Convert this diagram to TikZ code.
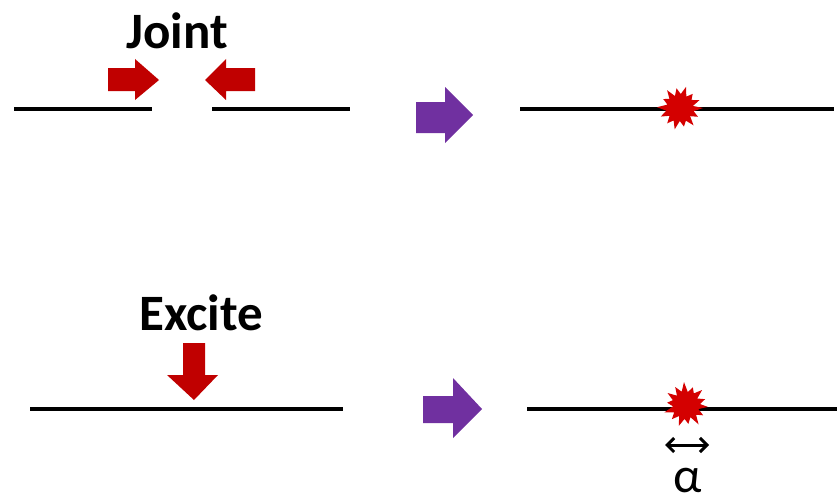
\documentclass[tikz,border=0pt]{standalone}
\usepackage{fontspec}
\setmainfont{Carlito}
\usetikzlibrary{calc,arrows.meta}
\definecolor{arrred}{HTML}{C00000}
\definecolor{arrpurple}{HTML}{7030A0}
\definecolor{burst}{HTML}{D40000}
\begin{document}
\begin{tikzpicture}[x=1pt,y=-1pt,
  seg/.style={line width=3.5pt,black},
  redarrow/.style={fill=arrred,draw=none},
  purplearrow/.style={fill=arrpurple,draw=none},
  lbl/.style={font=\bfseries\fontsize{51}{56}\selectfont,inner sep=0pt}]
\useasboundingbox (0,0) rectangle (837,503);
% top row
\coordinate (tl1) at (14,109); \coordinate (tl2) at (152,109);
\coordinate (tr1) at (212,109); \coordinate (tr2) at (350,109);
\draw[seg] (tl1) -- (tl2);
\draw[seg] (tr1) -- (tr2);
\node[lbl] (joint) at (177,31) {Joint};
\fill[redarrow] (108,68) -- (135,68) -- (135,59) -- (159,80) -- (135,100) -- (135,91) -- (108,91) -- cycle;
\fill[redarrow] (255,68) -- (226,68) -- (226,59) -- (205,80) -- (226,100) -- (226,91) -- (255,91) -- cycle;
\fill[purplearrow] (416,102) -- (445,102) -- (445,87) -- (473,115) -- (445,143) -- (445,133) -- (416,133) -- cycle;
\coordinate (ol1) at (520,109); \coordinate (ol2) at (834,109);
\draw[seg] (ol1) -- (ol2);
\coordinate (c1) at (680,108);
\fill[burst] ($(c1)+(0:23)$) \foreach \a/\r in {13/14,26/20,39/13,52/22,65/14,78/19,91/13,104/22,117/14,130/20,143/13,156/21,169/14,182/23,195/13,208/19,221/14,234/22,247/13,260/20,273/14,286/22,299/13,312/19,325/14,338/21,351/13} { -- ($(c1)+(\a:\r)$) } -- cycle;
% bottom row
\node[lbl] (excite) at (201,313) {Excite};
\coordinate (bl1) at (30,409); \coordinate (bl2) at (343,409);
\draw[seg] (bl1) -- (bl2);
\fill[redarrow] (183,343) -- (205,343) -- (205,375) -- (218,375) -- (194,400) -- (167,375) -- (183,375) -- cycle;
\fill[purplearrow] (423,396) -- (453,396) -- (453,378) -- (482,409) -- (453,438) -- (453,423) -- (423,423) -- cycle;
\coordinate (br1) at (527,409); \coordinate (br2) at (837,409);
\draw[seg] (br1) -- (br2);
\coordinate (c2) at (686,405);
\fill[burst] ($(c2)+(5:22)$) \foreach \a/\r in {18/13,31/20,44/14,57/23,70/13,83/19,96/14,109/22,122/13,135/20,148/14,161/23,174/13,187/19,200/14,213/22,226/13,239/21,252/14,265/23,278/13,291/19,304/14,317/22,330/13,343/20,356/14} { -- ($(c2)+(\a:\r)$) } -- cycle;
\coordinate (da1) at (665,445); \coordinate (da2) at (709,445);
\draw[line width=3pt,{Straight Barb[length=7pt,width=14pt]}-{Straight Barb[length=7pt,width=14pt]}] (da1) -- (da2);
\node[inner sep=0pt,anchor=base,font=\fontsize{50}{52}\selectfont] (alpha) at (688,492) {α};
\end{tikzpicture}
\end{document}
